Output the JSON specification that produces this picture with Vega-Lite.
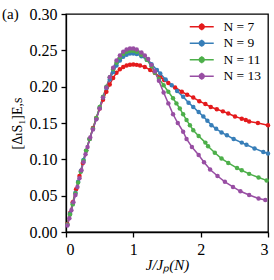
{
  "$schema": "https://vega.github.io/schema/vega-lite/v6.json",
  "width": 202,
  "height": 218,
  "autosize": {"type": "none"},
  "padding": {"left": 66, "top": 14, "right": 6, "bottom": 48},
  "background": "white",
  "title": {"text": "(a)", "anchor": "start", "frame": "group", "orient": "top", "offset": 0, "baseline": "middle", "dx": -64, "dy": 23, "font": "Liberation Serif", "fontSize": 15, "fontWeight": "normal", "color": "black"},
  "config": {
    "view": {"stroke": "black", "strokeWidth": 1.3},
    "axis": {
      "domainColor": "black", "domainWidth": 1.3, "tickColor": "black", "tickWidth": 1.3, "tickSize": 5,
      "grid": false, "labelFont": "Liberation Serif", "labelFontSize": 16, "labelColor": "black",
      "titleFont": "Liberation Serif", "titleFontSize": 15, "titleFontWeight": "normal", "titleColor": "black",
      "labelPadding": 3
    }
  },
  "data": {"values": [
    {"N":"N = 7","x":0.02,"y":0.011},{"N":"N = 7","x":0.06,"y":0.026},{"N":"N = 7","x":0.10,"y":0.041},{"N":"N = 7","x":0.15,"y":0.059},{"N":"N = 7","x":0.20,"y":0.077},{"N":"N = 7","x":0.25,"y":0.095},{"N":"N = 7","x":0.30,"y":0.112},{"N":"N = 7","x":0.35,"y":0.128},{"N":"N = 7","x":0.40,"y":0.143},{"N":"N = 7","x":0.45,"y":0.157},{"N":"N = 7","x":0.50,"y":0.170},{"N":"N = 7","x":0.55,"y":0.182},{"N":"N = 7","x":0.60,"y":0.193},{"N":"N = 7","x":0.65,"y":0.203},{"N":"N = 7","x":0.70,"y":0.212},{"N":"N = 7","x":0.75,"y":0.219},{"N":"N = 7","x":0.80,"y":0.224},{"N":"N = 7","x":0.85,"y":0.227},{"N":"N = 7","x":0.90,"y":0.229},{"N":"N = 7","x":0.95,"y":0.2302},{"N":"N = 7","x":1.00,"y":0.2305},{"N":"N = 7","x":1.05,"y":0.2300},{"N":"N = 7","x":1.10,"y":0.229},{"N":"N = 7","x":1.17,"y":0.227},{"N":"N = 7","x":1.25,"y":0.223},{"N":"N = 7","x":1.32,"y":0.219},{"N":"N = 7","x":1.40,"y":0.213},{"N":"N = 7","x":1.46,"y":0.209},{"N":"N = 7","x":1.52,"y":0.205},{"N":"N = 7","x":1.62,"y":0.199},{"N":"N = 7","x":1.72,"y":0.193},{"N":"N = 7","x":1.80,"y":0.189},{"N":"N = 7","x":1.89,"y":0.185},{"N":"N = 7","x":1.98,"y":0.180},{"N":"N = 7","x":2.07,"y":0.176},{"N":"N = 7","x":2.15,"y":0.172},{"N":"N = 7","x":2.24,"y":0.169},{"N":"N = 7","x":2.33,"y":0.166},{"N":"N = 7","x":2.41,"y":0.163},{"N":"N = 7","x":2.51,"y":0.159},{"N":"N = 7","x":2.61,"y":0.156},{"N":"N = 7","x":2.67,"y":0.154},{"N":"N = 7","x":2.72,"y":0.152},{"N":"N = 7","x":2.85,"y":0.150},{"N":"N = 7","x":3.0,"y":0.147},
    {"N":"N = 9","x":0.02,"y":0.010},{"N":"N = 9","x":0.06,"y":0.025},{"N":"N = 9","x":0.10,"y":0.039},{"N":"N = 9","x":0.14,"y":0.054},{"N":"N = 9","x":0.18,"y":0.069},{"N":"N = 9","x":0.22,"y":0.084},{"N":"N = 9","x":0.26,"y":0.099},{"N":"N = 9","x":0.30,"y":0.112},{"N":"N = 9","x":0.35,"y":0.128},{"N":"N = 9","x":0.40,"y":0.142},{"N":"N = 9","x":0.45,"y":0.156},{"N":"N = 9","x":0.50,"y":0.171},{"N":"N = 9","x":0.55,"y":0.185},{"N":"N = 9","x":0.60,"y":0.198},{"N":"N = 9","x":0.65,"y":0.210},{"N":"N = 9","x":0.70,"y":0.220},{"N":"N = 9","x":0.75,"y":0.229},{"N":"N = 9","x":0.80,"y":0.236},{"N":"N = 9","x":0.85,"y":0.241},{"N":"N = 9","x":0.90,"y":0.244},{"N":"N = 9","x":0.95,"y":0.2455},{"N":"N = 9","x":1.00,"y":0.2455},{"N":"N = 9","x":1.05,"y":0.245},{"N":"N = 9","x":1.12,"y":0.242},{"N":"N = 9","x":1.20,"y":0.237},{"N":"N = 9","x":1.27,"y":0.231},{"N":"N = 9","x":1.35,"y":0.223},{"N":"N = 9","x":1.40,"y":0.218},{"N":"N = 9","x":1.48,"y":0.210},{"N":"N = 9","x":1.57,"y":0.202},{"N":"N = 9","x":1.65,"y":0.194},{"N":"N = 9","x":1.74,"y":0.186},{"N":"N = 9","x":1.82,"y":0.178},{"N":"N = 9","x":1.89,"y":0.172},{"N":"N = 9","x":1.97,"y":0.165},{"N":"N = 9","x":2.04,"y":0.159},{"N":"N = 9","x":2.10,"y":0.153},{"N":"N = 9","x":2.16,"y":0.147},{"N":"N = 9","x":2.23,"y":0.142},{"N":"N = 9","x":2.31,"y":0.137},{"N":"N = 9","x":2.39,"y":0.133},{"N":"N = 9","x":2.49,"y":0.128},{"N":"N = 9","x":2.61,"y":0.123},{"N":"N = 9","x":2.68,"y":0.120},{"N":"N = 9","x":2.80,"y":0.115},{"N":"N = 9","x":2.93,"y":0.110},{"N":"N = 9","x":3.0,"y":0.108},
    {"N":"N = 11","x":0.02,"y":0.010},{"N":"N = 11","x":0.06,"y":0.024},{"N":"N = 11","x":0.10,"y":0.038},{"N":"N = 11","x":0.14,"y":0.053},{"N":"N = 11","x":0.18,"y":0.068},{"N":"N = 11","x":0.22,"y":0.083},{"N":"N = 11","x":0.26,"y":0.098},{"N":"N = 11","x":0.30,"y":0.112},{"N":"N = 11","x":0.35,"y":0.128},{"N":"N = 11","x":0.40,"y":0.142},{"N":"N = 11","x":0.45,"y":0.157},{"N":"N = 11","x":0.50,"y":0.172},{"N":"N = 11","x":0.55,"y":0.186},{"N":"N = 11","x":0.60,"y":0.200},{"N":"N = 11","x":0.65,"y":0.213},{"N":"N = 11","x":0.70,"y":0.224},{"N":"N = 11","x":0.75,"y":0.233},{"N":"N = 11","x":0.80,"y":0.240},{"N":"N = 11","x":0.85,"y":0.245},{"N":"N = 11","x":0.90,"y":0.248},{"N":"N = 11","x":0.95,"y":0.2495},{"N":"N = 11","x":1.00,"y":0.2495},{"N":"N = 11","x":1.05,"y":0.248},{"N":"N = 11","x":1.12,"y":0.244},{"N":"N = 11","x":1.20,"y":0.237},{"N":"N = 11","x":1.27,"y":0.228},{"N":"N = 11","x":1.32,"y":0.219},{"N":"N = 11","x":1.38,"y":0.211},{"N":"N = 11","x":1.45,"y":0.202},{"N":"N = 11","x":1.52,"y":0.193},{"N":"N = 11","x":1.59,"y":0.184},{"N":"N = 11","x":1.64,"y":0.177},{"N":"N = 11","x":1.69,"y":0.170},{"N":"N = 11","x":1.74,"y":0.162},{"N":"N = 11","x":1.79,"y":0.154},{"N":"N = 11","x":1.84,"y":0.147},{"N":"N = 11","x":1.89,"y":0.140},{"N":"N = 11","x":1.97,"y":0.132},{"N":"N = 11","x":2.07,"y":0.123},{"N":"N = 11","x":2.11,"y":0.118},{"N":"N = 11","x":2.21,"y":0.109},{"N":"N = 11","x":2.31,"y":0.101},{"N":"N = 11","x":2.41,"y":0.095},{"N":"N = 11","x":2.54,"y":0.088},{"N":"N = 11","x":2.61,"y":0.085},{"N":"N = 11","x":2.72,"y":0.080},{"N":"N = 11","x":2.86,"y":0.075},{"N":"N = 11","x":2.98,"y":0.071},
    {"N":"N = 13","x":0.02,"y":0.009},{"N":"N = 13","x":0.05,"y":0.019},{"N":"N = 13","x":0.08,"y":0.030},{"N":"N = 13","x":0.11,"y":0.041},{"N":"N = 13","x":0.14,"y":0.051},{"N":"N = 13","x":0.17,"y":0.062},{"N":"N = 13","x":0.20,"y":0.074},{"N":"N = 13","x":0.23,"y":0.085},{"N":"N = 13","x":0.26,"y":0.096},{"N":"N = 13","x":0.29,"y":0.107},{"N":"N = 13","x":0.32,"y":0.117},{"N":"N = 13","x":0.36,"y":0.130},{"N":"N = 13","x":0.40,"y":0.141},{"N":"N = 13","x":0.45,"y":0.155},{"N":"N = 13","x":0.50,"y":0.170},{"N":"N = 13","x":0.55,"y":0.185},{"N":"N = 13","x":0.60,"y":0.199},{"N":"N = 13","x":0.65,"y":0.213},{"N":"N = 13","x":0.70,"y":0.226},{"N":"N = 13","x":0.75,"y":0.236},{"N":"N = 13","x":0.80,"y":0.243},{"N":"N = 13","x":0.85,"y":0.248},{"N":"N = 13","x":0.90,"y":0.251},{"N":"N = 13","x":0.95,"y":0.2525},{"N":"N = 13","x":1.00,"y":0.2525},{"N":"N = 13","x":1.05,"y":0.251},{"N":"N = 13","x":1.12,"y":0.247},{"N":"N = 13","x":1.17,"y":0.243},{"N":"N = 13","x":1.22,"y":0.238},{"N":"N = 13","x":1.27,"y":0.230},{"N":"N = 13","x":1.32,"y":0.221},{"N":"N = 13","x":1.38,"y":0.208},{"N":"N = 13","x":1.45,"y":0.192},{"N":"N = 13","x":1.52,"y":0.177},{"N":"N = 13","x":1.59,"y":0.162},{"N":"N = 13","x":1.66,"y":0.150},{"N":"N = 13","x":1.74,"y":0.138},{"N":"N = 13","x":1.79,"y":0.128},{"N":"N = 13","x":1.87,"y":0.117},{"N":"N = 13","x":1.97,"y":0.106},{"N":"N = 13","x":2.05,"y":0.096},{"N":"N = 13","x":2.14,"y":0.086},{"N":"N = 13","x":2.25,"y":0.077},{"N":"N = 13","x":2.36,"y":0.069},{"N":"N = 13","x":2.48,"y":0.062},{"N":"N = 13","x":2.59,"y":0.056},{"N":"N = 13","x":2.72,"y":0.051},{"N":"N = 13","x":2.86,"y":0.046},{"N":"N = 13","x":2.96,"y":0.044}
  ]},
  "encoding": {
    "x": {"field": "x", "type": "quantitative", "scale": {"domain": [0, 3], "nice": false},
      "axis": {"values": [0, 1, 2, 3], "format": "d", "title": "J/Jₚ(N)", "titleFontStyle": "italic", "titlePadding": 0, "labelPadding": 4}},
    "y": {"field": "y", "type": "quantitative", "scale": {"domain": [0, 0.3], "nice": false},
      "axis": {"values": [0, 0.05, 0.1, 0.15, 0.2, 0.25, 0.3], "format": ".2f", "title": "[ΔₗS₁]E,s", "titleFont": "Liberation Serif, DejaVu Serif, DejaVu Sans", "titleFontSize": 14, "titlePadding": 5, "labelPadding": 4}},
    "color": {"field": "N", "type": "nominal",
      "scale": {"domain": ["N = 7", "N = 9", "N = 11", "N = 13"], "range": ["#e41a1c", "#377eb8", "#4daf4a", "#984ea3"]},
      "legend": {"title": null, "orient": "none", "legendX": 129, "legendY": 6, "padding": 0,
        "symbolType": "M-2.5,0H2.5M0,-0.75V0.75M-0.5,0A0.5,0.5 0 1,0 0.5,0A0.5,0.5 0 1,0 -0.5,0Z",
        "symbolSize": 92, "symbolStrokeWidth": 1.5, "labelFont": "Liberation Serif", "labelFontSize": 13.5,
        "labelOffset": 15, "rowPadding": 1.5, "labelColor": "black",
        "encode": {"symbols": {"update": {"fill": {"scale": "color", "field": "value"}, "stroke": {"scale": "color", "field": "value"}, "opacity": {"value": 1}, "fillOpacity": {"value": 1}}}}}}
  },
  "layer": [
    {"mark": {"type": "line", "strokeWidth": 1.5, "clip": true}},
    {"mark": {"type": "point", "filled": true, "size": 20, "opacity": 1}}
  ]
}
